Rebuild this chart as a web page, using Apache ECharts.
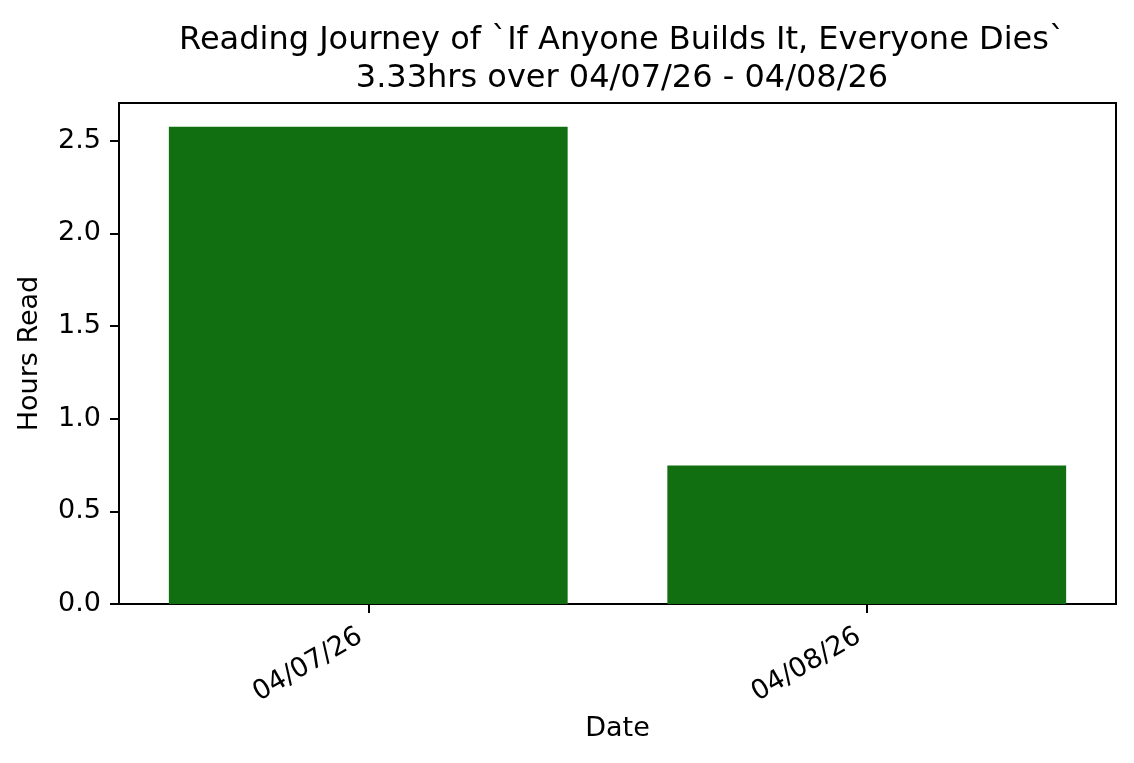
<!DOCTYPE html>
<html>
<head>
<meta charset="utf-8">
<script src="https://cdn.jsdelivr.net/npm/echarts@6/dist/echarts.min.js"></script>
<style>
html,body{margin:0;padding:0;background:#fff;}
#chart{width:1134px;height:763px;}
</style>
</head>
<body>
<div id="chart"></div>
<script>
const categories = ['04/07/26', '04/08/26'];
const hoursRead = [2.575, 0.747];
const yTicks = [0, 0.5, 1.0, 1.5, 2.0, 2.5];
const titleLines = ['Reading Journey of `If Anyone Builds It, Everyone Dies`', '3.33hrs over 04/07/26 - 04/08/26'];

const FONT = 'DejaVu Sans';
const yMax = Math.max.apply(null, hoursRead) * 1.05;

const chart = echarts.init(document.getElementById('chart'), null, {renderer: 'canvas'});
chart.setOption({
  backgroundColor: '#ffffff',
  animation: false,
  title: {
    text: titleLines.join('\n'),
    left: 617,
    top: 17,
    textAlign: 'center',
    textStyle: {fontFamily: FONT, fontSize: 32, fontWeight: 'normal', color: '#000', lineHeight: 38}
  },
  grid: {
    left: 119, right: 18, top: 103, bottom: 159,
    show: true, borderColor: '#000', borderWidth: 2, backgroundColor: 'transparent'
  },
  xAxis: {
    type: 'category',
    data: categories,
    boundaryGap: true,
    name: 'Date',
    nameLocation: 'middle',
    nameGap: 111,
    nameTextStyle: {fontFamily: FONT, fontSize: 27, color: '#000'},
    axisLine: {show: true, lineStyle: {color: '#000', width: 2}},
    axisTick: {show: true, alignWithLabel: true, length: 9, lineStyle: {color: '#000', width: 2}},
    axisLabel: {
      rotate: 30, margin: 26, fontFamily: FONT, fontSize: 27, color: '#000',
      padding: [0, 9, 0, 0]
    },
    splitLine: {show: false}
  },
  yAxis: {
    type: 'value',
    min: 0,
    max: yMax,
    interval: 0.5,
    name: 'Hours Read',
    nameLocation: 'middle',
    nameGap: 76,
    nameTextStyle: {fontFamily: FONT, fontSize: 27, color: '#000'},
    axisLine: {show: true, lineStyle: {color: '#000', width: 2}},
    axisTick: {show: true, length: 9, lineStyle: {color: '#000', width: 2}},
    axisLabel: {
      margin: 18, fontFamily: FONT, fontSize: 27, color: '#000',
      formatter: function (v) { return yTicks.indexOf(v) >= 0 || Math.abs(v % 0.5) < 1e-9 ? v.toFixed(1) : ''; },
      showMaxLabel: false
    },
    splitLine: {show: false}
  },
  series: [{
    type: 'bar',
    data: hoursRead,
    barWidth: '80%',
    itemStyle: {color: '#116f12'}
  }]
});
</script>
</body>
</html>
